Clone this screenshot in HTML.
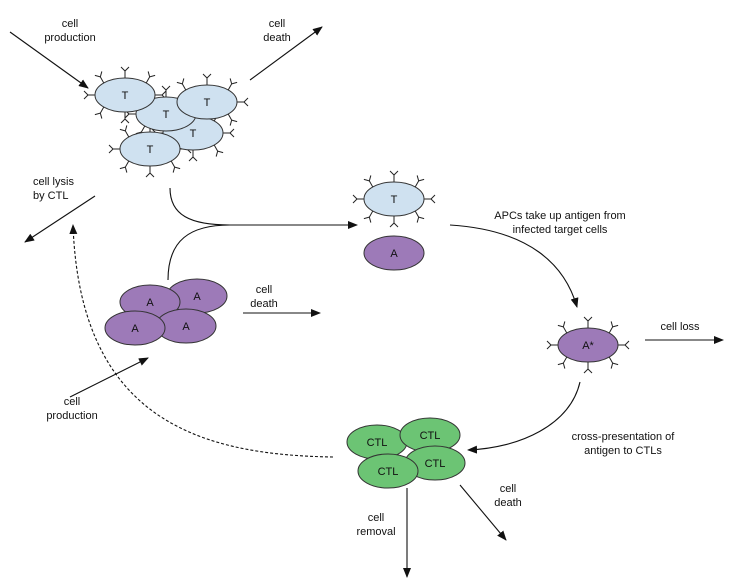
<!DOCTYPE html>
<html><head><meta charset="utf-8"><style>
html,body{margin:0;padding:0;background:#fff}
svg{display:block}
text{font-family:"Liberation Sans",sans-serif;font-size:11px;fill:#111}
</style></head><body>
<svg id="s" width="732" height="588" viewBox="0 0 732 588" xmlns="http://www.w3.org/2000/svg">
<defs>
<marker id="ah" markerWidth="10" markerHeight="8" refX="9" refY="4" orient="auto" markerUnits="userSpaceOnUse">
<path d="M0,0 L10,4 L0,8 z" fill="#111"/></marker>
</defs>
<g id="rec" stroke="#222" stroke-width="1" fill="none"></g>
<g id="cells" stroke="#333" stroke-width="1"></g>
<g stroke="#111" stroke-width="1.1" fill="none">
<line x1="10" y1="32" x2="88" y2="88" marker-end="url(#ah)"/>
<line x1="250" y1="80" x2="322" y2="27" marker-end="url(#ah)"/>
<line x1="95" y1="196" x2="25" y2="242" marker-end="url(#ah)"/>
<path d="M170,188 C170,215 190,225 230,225 L357,225" marker-end="url(#ah)"/>
<path d="M168,280 C168,240 190,225 230,225"/>
<line x1="243" y1="313" x2="320" y2="313" marker-end="url(#ah)"/>
<line x1="70" y1="397" x2="148" y2="358" marker-end="url(#ah)"/>
<path d="M450,225 C530,230 565,265 577,307" marker-end="url(#ah)"/>
<line x1="645" y1="340" x2="723" y2="340" marker-end="url(#ah)"/>
<path d="M580,382 C570,425 520,448 468,450" marker-end="url(#ah)"/>
<path d="M333,457 C200,455 80,420 73,225" stroke-dasharray="3,2" marker-end="url(#ah)"/>
<line x1="407" y1="488" x2="407" y2="577" marker-end="url(#ah)"/>
<line x1="460" y1="485" x2="506" y2="540" marker-end="url(#ah)"/>
</g>
<g text-anchor="middle">
<text x="70" y="27">cell</text><text x="70" y="41">production</text>
<text x="277" y="27">cell</text><text x="277" y="41">death</text>
<text x="264" y="293">cell</text><text x="264" y="307">death</text>
<text x="560" y="219">APCs take up antigen from</text><text x="560" y="233">infected target cells</text>
<text x="680" y="330">cell loss</text>
<text x="72" y="405">cell</text><text x="72" y="419">production</text>
<text x="623" y="440">cross-presentation of</text><text x="623" y="454">antigen to CTLs</text>
<text x="508" y="492">cell</text><text x="508" y="506">death</text>
<text x="376" y="521">cell</text><text x="376" y="535">removal</text>
</g>
<text x="33" y="185">cell lysis</text><text x="33" y="199">by CTL</text>
</svg>
<script>
var NS="http://www.w3.org/2000/svg";
var rec=document.getElementById("rec"),cells=document.getElementById("cells");
function el(p,t,a){var e=document.createElementNS(NS,t);for(var k in a)e.setAttribute(k,a[k]);p.appendChild(e);return e;}
function cell(cx,cy,fill,label,recs){
 var rx=30,ry=17;
 if(recs){
  [0,45,90,135,180,225,270,315].forEach(function(d){
   var a=d*Math.PI/180,c=Math.cos(a),s=Math.sin(a);
   var x0=cx+rx*c,y0=cy+ry*s;
   var nx=c/rx,ny=s/ry,n=Math.hypot(nx,ny);nx/=n;ny/=n;
   var x1=x0+nx*7,y1=y0+ny*7;
   el(rec,"line",{x1:x0,y1:y0,x2:x1,y2:y1});
   var px=-ny,py=nx;
   el(rec,"line",{x1:x1,y1:y1,x2:x1+nx*4+px*4,y2:y1+ny*4+py*4});
   el(rec,"line",{x1:x1,y1:y1,x2:x1+nx*4-px*4,y2:y1+ny*4-py*4});
  });
 }
 el(cells,"ellipse",{cx:cx,cy:cy,rx:rx,ry:ry,fill:fill});
 var t=el(cells,"text",{x:cx,y:cy+4,"text-anchor":"middle",stroke:"none"});t.textContent=label;
}
var TB="#cfe1f0",PU="#9d7ab8",GR="#6cc474";
cell(193,133,TB,"T",1);cell(166,114,TB,"T",1);cell(125,95,TB,"T",1);cell(207,102,TB,"T",1);cell(150,149,TB,"T",1);
cell(394,199,TB,"T",1);cell(394,253,PU,"A",0);cell(588,345,PU,"A*",1);
cell(197,296,PU,"A",0);cell(150,302,PU,"A",0);cell(186,326,PU,"A",0);cell(135,328,PU,"A",0);
cell(377,442,GR,"CTL",0);cell(430,435,GR,"CTL",0);cell(435,463,GR,"CTL",0);cell(388,471,GR,"CTL",0);
</script>
</body></html>
